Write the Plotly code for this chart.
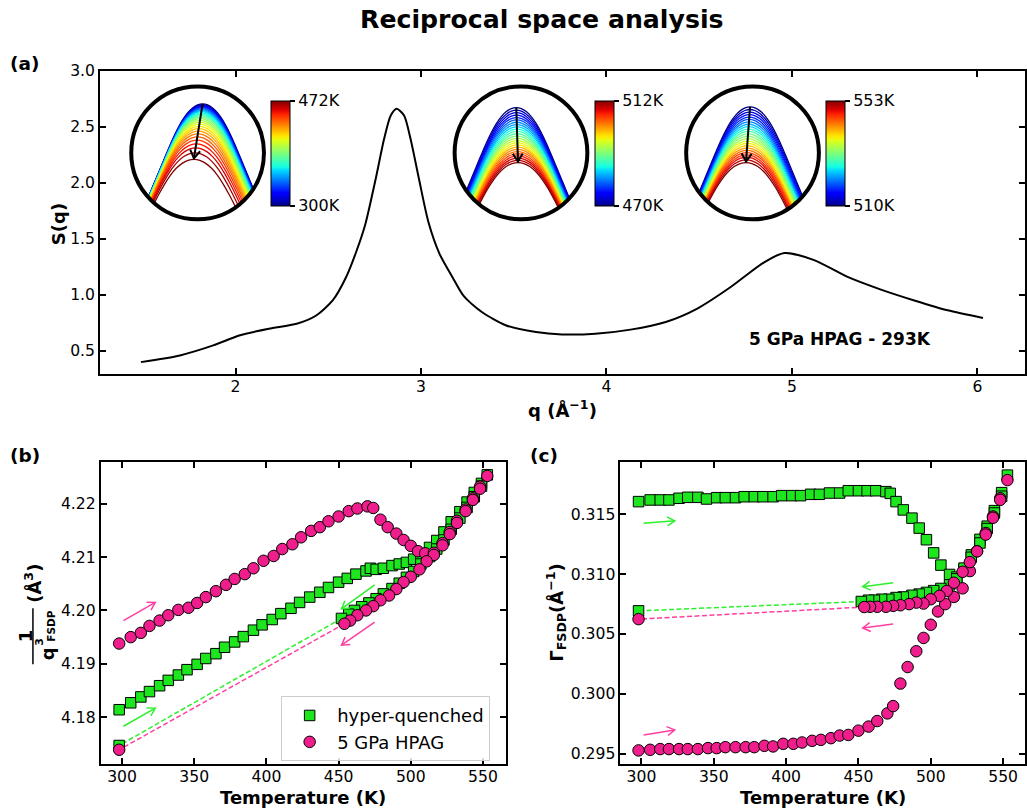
import numpy as np
import plotly.graph_objects as go

W, H = 1027, 812
FONT = "DejaVu Sans"
Y_OFF, Y_SCALE = 8.0, 0.99   # empirical vertical correction of the rendered page

# ---------------- data: panel (a) S(q) ----------------
q_vals = [1.49, 1.70, 1.88, 2.02, 2.18, 2.33, 2.435, 2.524, 2.596, 2.65, 2.70, 2.756, 2.801, 2.837, 2.869,
          2.909, 2.944, 2.989, 3.04, 3.10, 3.17, 3.23, 3.33, 3.46, 3.62, 3.76, 3.94, 4.13, 4.32, 4.49,
          4.67, 4.85, 4.96, 5.12, 5.30, 5.48, 5.66, 5.84, 6.03]
sq_vals = [0.400, 0.460, 0.549, 0.638, 0.698, 0.742, 0.816, 0.950, 1.157, 1.380, 1.630, 2.035, 2.390, 2.600, 2.660,
           2.600, 2.390, 2.035, 1.650, 1.366, 1.157, 0.990, 0.845, 0.727, 0.668, 0.647, 0.653, 0.690, 0.758, 0.878,
           1.070, 1.290, 1.373, 1.310, 1.160, 1.047, 0.950, 0.862, 0.794]

# ---------------- data: insets (peak apex per temperature, px) ----------------
ins1_T = [300, 306, 313, 319, 325, 332, 338, 344, 351, 357, 364, 370, 376, 383, 389, 395, 402, 408,
          415, 421, 427, 434, 440, 446, 453, 459, 466, 472]
ins1_drop = [0, 0.8, 1.6, 2.4, 3.2, 4.0, 4.9, 5.8, 6.8, 7.8, 9.0, 10.3, 11.7, 13.2, 14.8, 16.5, 18.3, 20.3,
             22.5, 24.8, 27.3, 30.0, 33.0, 36.3, 40.0, 44.0, 49.0, 55.5]
ins2_T = [470, 472, 474, 475, 477, 479, 481, 482, 484, 486, 488, 489, 491, 493, 495, 496, 498, 500,
          502, 503, 505, 507, 509, 510, 512]
ins2_drop = [0, 2.6, 5.1, 7.6, 10.0, 12.4, 14.7, 17.0, 19.3, 21.6, 23.9, 26.2, 28.5, 30.8, 33.0, 35.2,
             37.4, 39.6, 41.8, 44.0, 46.2, 48.4, 50.6, 52.8, 55.0]
ins3_T = [510, 512, 514, 516, 517, 519, 521, 523, 525, 527, 529, 531, 532, 534, 536, 538, 540, 542,
          544, 546, 547, 549, 551, 553]
ins3_drop = [0, 2.6, 5.2, 7.7, 10.2, 12.6, 15.0, 17.4, 19.8, 22.2, 24.6, 27.0, 29.4, 31.8, 34.2, 36.6,
             38.9, 41.2, 43.5, 45.8, 48.1, 50.4, 53.0, 55.7]
# peak profile (half width px -> drop px)
prof_hw = [0, 5, 10, 15, 20, 25, 30, 35, 40, 45, 50, 55, 60, 65, 70, 75, 80]
prof_drop = [0, 1, 4, 9, 16, 25, 35.5, 47, 59, 71, 83, 95, 107, 119, 131, 143, 155]

# ---------------- data: panels (b) and (c) ----------------
hq_heat_T = [298, 306, 313, 319, 326, 332, 339, 345, 352, 358, 365, 371, 378, 384, 391, 397, 404, 410,
             417, 423, 430, 437, 443, 450, 456, 462, 469, 472, 476, 481, 487, 492, 497, 502, 507, 513,
             518, 523, 528, 534, 539, 544, 549, 553]
hq_heat_invq3 = [4.1814, 4.1827, 4.1838, 4.1848, 4.1859, 4.1869, 4.1879, 4.1889, 4.1899, 4.1910,
                 4.1919, 4.1931, 4.1941, 4.1951, 4.1963, 4.1973, 4.1983, 4.1994, 4.2004, 4.2015,
                 4.2025, 4.2034, 4.2043, 4.2053, 4.2060, 4.2068, 4.2074, 4.2079, 4.2077, 4.2079,
                 4.2084, 4.2087, 4.2090, 4.2096, 4.2105, 4.2118, 4.2131, 4.2147, 4.2166, 4.2185,
                 4.2203, 4.2221, 4.2238, 4.2254]
hq_heat_gamma = [0.31605, 0.31619, 0.31619, 0.31619, 0.31633, 0.31641, 0.31641, 0.31627, 0.31638, 0.31638,
                 0.31638, 0.31646, 0.31646, 0.31646, 0.31646, 0.31655, 0.31655, 0.31655, 0.31666, 0.31666,
                 0.31677, 0.31677, 0.31696, 0.31696, 0.31696, 0.31696, 0.31688, 0.31674, 0.31605, 0.31536,
                 0.31467, 0.31384, 0.31287, 0.31177, 0.31075, 0.30997, 0.30975, 0.31040, 0.31160, 0.31290,
                 0.31400, 0.31530, 0.31680, 0.31826]
hq_cool_T = [549, 544, 539, 534, 528, 523, 518, 513, 507, 502, 497, 492, 487, 481, 476, 471, 466, 461, 457, 452]
hq_cool_invq3 = [4.2233, 4.2213, 4.2193, 4.2173, 4.2152, 4.2132, 4.2115, 4.2101, 4.2087, 4.2073,
                 4.2062, 4.2051, 4.2041, 4.2031, 4.2022, 4.2014, 4.2007, 4.2000, 4.1993, 4.1985]
hq_cool_gamma = [0.31650, 0.31510, 0.31380, 0.31260, 0.31140, 0.31050, 0.30960, 0.30910, 0.30880, 0.30862,
                 0.30847, 0.30833, 0.30823, 0.30809, 0.30804, 0.30790, 0.30790, 0.30782, 0.30782, 0.30771]
hq_final_T = [298]
hq_final_invq3 = [4.1747]
hq_final_gamma = [0.30693]

hp_heat_T = [298, 306, 313, 319, 326, 332, 339, 346, 352, 358, 365, 372, 378, 385, 391, 398, 405, 411,
             418, 424, 431, 437, 443, 450, 457, 463, 470, 474, 479, 484, 490, 495, 500, 505, 510, 516,
             522, 527, 532, 538, 543, 548, 553]
hp_heat_invq3 = [4.1938, 4.1950, 4.1958, 4.1971, 4.1981, 4.1991, 4.2001, 4.2005, 4.2014, 4.2025,
                 4.2036, 4.2048, 4.2059, 4.2068, 4.2079, 4.2093, 4.2102, 4.2115, 4.2124, 4.2137,
                 4.2149, 4.2156, 4.2167, 4.2176, 4.2186, 4.2191, 4.2195, 4.2192, 4.2170, 4.2156,
                 4.2144, 4.2132, 4.2121, 4.2111, 4.2107, 4.2108, 4.2126, 4.2147, 4.2168, 4.2189,
                 4.2210, 4.2232, 4.2252]
hp_heat_gamma = [0.29528, 0.29533, 0.29539, 0.29539, 0.29539, 0.29539, 0.29539, 0.29547, 0.29547, 0.29555,
                 0.29555, 0.29555, 0.29555, 0.29566, 0.29561, 0.29583, 0.29583, 0.29594, 0.29608, 0.29616,
                 0.29630, 0.29652, 0.29657, 0.29693, 0.29727, 0.29773, 0.29837, 0.29898, 0.30086, 0.30224,
                 0.30356, 0.30467, 0.30577, 0.30688, 0.30749, 0.30809, 0.30881, 0.31025, 0.31191, 0.31343,
                 0.31481, 0.31633, 0.31785]
hp_cool_T = [548, 543, 538, 532, 527, 522, 516, 511, 506, 500, 495, 490, 485, 479, 474, 469, 463, 458, 454]
hp_cool_invq3 = [4.2228, 4.2207, 4.2186, 4.2164, 4.2143, 4.2122, 4.2104, 4.2092, 4.2077, 4.2063,
                 4.2053, 4.2040, 4.2028, 4.2019, 4.2008, 4.2000, 4.1991, 4.1981, 4.1975]
hp_cool_gamma = [0.31620, 0.31470, 0.31330, 0.31190, 0.31100, 0.31019, 0.30928, 0.30859, 0.30818, 0.30790,
                 0.30754, 0.30762, 0.30749, 0.30740, 0.30735, 0.30727, 0.30727, 0.30727, 0.30725]
hp_final_T = [298]
hp_final_invq3 = [4.1739]
hp_final_gamma = [0.30624]

q_ticks = [2, 3, 4, 5, 6]
s_ticks = [0.5, 1.0, 1.5, 2.0, 2.5, 3.0]
T_ticks = [300, 350, 400, 450, 500, 550]
invq3_ticks = [4.18, 4.19, 4.20, 4.21, 4.22]
gamma_ticks = [0.295, 0.300, 0.305, 0.310, 0.315]

GREEN = "#1ee61e"
PINK = "#f01e8c"
GREEN_A = "#2cf02c"
PINK_A = "#ff3fa0"

# direction arrows (tail T, tail value, head T, head value)
arrows_b = [(301, 4.1981, 323, 4.2015, PINK_A), (301, 4.1783, 323, 4.1817, GREEN_A),
            (475, 4.2048, 452, 4.2003, GREEN_A), (475, 4.1978, 452, 4.1935, PINK_A)]
arrows_c = [(301.5, 0.31425, 323, 0.31445, GREEN_A), (474, 0.30928, 453, 0.30895, GREEN_A),
            (474, 0.30583, 453, 0.30550, PINK_A), (301.5, 0.29657, 323, 0.29699, PINK_A)]

# axis geometry (pixels) and ranges
AX = {
    "a": dict(xd=(100.3, 1026.5), yd=(373.3, 69.7), xr=(1.27, 6.254), yr=(0.295, 3.0)),
    "b": dict(xd=(101, 507), yd=(764, 461), xr=(285.28, 565.97), yr=(4.1712, 4.2279)),
    "c": dict(xd=(621.7, 1026.5), yd=(764, 461), xr=(285.51, 564.8), yr=(0.29413, 0.3194)),
}


def fx(p):
    return p / W


def fy(p):
    return 1 - ((p - Y_OFF) / Y_SCALE) / H


def jet(v):
    v = float(np.clip(v, 0, 1))
    r = np.interp(v, [0, 0.35, 0.66, 0.89, 1], [0, 0, 1, 1, 0.5])
    g = np.interp(v, [0, 0.125, 0.375, 0.64, 0.91, 1], [0, 0, 1, 1, 0, 0])
    b = np.interp(v, [0, 0.11, 0.34, 0.65, 1], [0.5, 1, 1, 0, 0])
    return "rgb(%d,%d,%d)" % (round(r * 255), round(g * 255), round(b * 255))


JET = [[i / 24, jet(i / 24)] for i in range(25)]


def arrow_shapes(t0, v0, t1, v1, sx, sy, xref, yref, color, width, head_len=8.0, head_half=4.5):
    """open '->' arrow drawn as shapes; sx, sy = pixels per data unit"""
    dxp, dyp = (t1 - t0) * sx, (v1 - v0) * sy
    n = (dxp ** 2 + dyp ** 2) ** 0.5
    ux, uy = dxp / n, dyp / n
    px, py = -uy, ux
    pts = []
    for sgn in (1, -1):
        bx = -ux * head_len + sgn * px * head_half
        by = -uy * head_len + sgn * py * head_half
        pts.append((t1 + bx / sx, v1 + by / sy))
    path = "M %f,%f L %f,%f L %f,%f" % (pts[0][0], pts[0][1], t1, v1, pts[1][0], pts[1][1])
    return [dict(type="line", xref=xref, yref=yref, x0=t0, y0=v0, x1=t1, y1=v1,
                 line=dict(color=color, width=width)),
            dict(type="path", xref=xref, yref=yref, path=path, line=dict(color=color, width=width))]


fig = go.Figure()

# ---------------- panel (a) ----------------
fig.add_trace(go.Scatter(x=q_vals, y=sq_vals, mode="lines",
                         line=dict(color="black", width=2, shape="spline", smoothing=0.7),
                         showlegend=False, xaxis="x", yaxis="y", hoverinfo="skip"))

R_CIRC = 66.5
insets = [
    dict(T=ins1_T, drop=ins1_drop, cx=198, apex0=(5.0, 49.0), apex1=(-3.7, -7.0), cb_x=271.7, ax="4"),
    dict(T=ins2_T, drop=ins2_drop, cx=522, apex0=(-4.7, 45.3), apex1=(-3.0, -9.7), cb_x=596.0, ax="5"),
    dict(T=ins3_T, drop=ins3_drop, cx=754, apex0=(-2.5, 46.0), apex1=(-6.5, -9.7), cb_x=827.7, ax="6"),
]


def clip_to_circle(xs, ys, R):
    out_x, out_y = [], []
    pts = list(zip(xs, ys))
    for i, (x, y) in enumerate(pts):
        inside = x * x + y * y <= R * R
        if i > 0:
            x0, y0 = pts[i - 1]
            in0 = x0 * x0 + y0 * y0 <= R * R
            if in0 != inside:
                dx, dy = x - x0, y - y0
                a = dx * dx + dy * dy
                b = 2 * (x0 * dx + y0 * dy)
                c = x0 * x0 + y0 * y0 - R * R
                disc = max(b * b - 4 * a * c, 0)
                for t in ((-b - disc ** 0.5) / (2 * a), (-b + disc ** 0.5) / (2 * a)):
                    if 0 <= t <= 1:
                        out_x.append(x0 + t * dx)
                        out_y.append(y0 + t * dy)
                        break
        if inside:
            out_x.append(x)
            out_y.append(y)
    return out_x, out_y


shapes = []
annotations = []
for ins in insets:
    ax = ins["ax"]
    Ts, drops = ins["T"], ins["drop"]
    tmin, tmax = Ts[0], Ts[-1]
    dmax = drops[-1]
    apx, apy = [], []
    for T, d in zip(Ts, drops):
        f = d / dmax
        x_ap = ins["apex0"][0] + (ins["apex1"][0] - ins["apex0"][0]) * f
        y_ap = ins["apex0"][1] - d
        s = 1.0 + 0.18 * f
        hw = [-h for h in prof_hw[::-1]] + prof_hw[1:]
        dr = prof_drop[::-1] + prof_drop[1:]
        xs = [x_ap + s * h for h in hw]
        ys = [y_ap - v for v in dr]
        cx_, cy_ = clip_to_circle(xs, ys, R_CIRC)
        fig.add_trace(go.Scatter(x=cx_, y=cy_, mode="lines",
                                 line=dict(color=jet((T - tmin) / (tmax - tmin)), width=1.3, shape="spline"),
                                 showlegend=False, xaxis="x" + ax, yaxis="y" + ax, hoverinfo="skip"))
        apx.append(x_ap)
        apy.append(y_ap)
    cbar = dict(thickness=18.5, thicknessmode="pixels", len=105, lenmode="pixels",
                x=fx(ins["cb_x"]), xanchor="left", xpad=0,
                y=fy(152.5), yanchor="middle", ypad=0,
                outlinewidth=1, outlinecolor="black",
                tickvals=[tmin, tmax], ticktext=["%dK" % tmin, "%dK" % tmax],
                ticks="outside", ticklen=5, tickwidth=1.5, tickcolor="black",
                tickfont=dict(family=FONT, size=16, color="black"))
    mk = dict(size=1, opacity=0, color=Ts, colorscale=JET, cmin=tmin, cmax=tmax, showscale=True, colorbar=cbar)
    fig.add_trace(go.Scatter(x=apx, y=apy, mode="markers", xaxis="x" + ax, yaxis="y" + ax,
                             showlegend=False, hoverinfo="skip", marker=mk))
    shapes.append(dict(type="circle", xref="x" + ax, yref="y" + ax, x0=-R_CIRC, x1=R_CIRC, y0=-R_CIRC, y1=R_CIRC,
                       line=dict(color="black", width=4)))
    shapes += arrow_shapes(apx[0], apy[0], apx[-1], apy[-1] + 1.0, 1.0, 1.0, "x" + ax, "y" + ax, "black", 2,
                           head_len=8, head_half=5)

# ---------------- panels (b) and (c) ----------------
panel_sets = [
    ("x2", "y2", hq_heat_invq3, hq_cool_invq3, hq_final_invq3, hp_heat_invq3, hp_cool_invq3, hp_final_invq3, True),
    ("x3", "y3", hq_heat_gamma, hq_cool_gamma, hq_final_gamma, hp_heat_gamma, hp_cool_gamma, hp_final_gamma, False),
]
for xa, ya, hq_h, hq_c, hq_f, hp_h, hp_c, hp_f, leg in panel_sets:
    fig.add_trace(go.Scatter(x=[hq_cool_T[-1], hq_final_T[0]], y=[hq_c[-1], hq_f[0]], mode="lines",
                             line=dict(color=GREEN_A, width=1.5, dash="5px,2.5px"), showlegend=False,
                             xaxis=xa, yaxis=ya, hoverinfo="skip"))
    fig.add_trace(go.Scatter(x=[hp_cool_T[-1], hp_final_T[0]], y=[hp_c[-1], hp_f[0]], mode="lines",
                             line=dict(color=PINK_A, width=1.5, dash="5px,2.5px"), showlegend=False,
                             xaxis=xa, yaxis=ya, hoverinfo="skip"))
    fig.add_trace(go.Scatter(x=hq_heat_T + hq_cool_T + hq_final_T, y=hq_h + hq_c + hq_f, mode="markers",
                             name="hyper-quenched", showlegend=leg,
                             marker=dict(symbol="square", size=10.5, color=GREEN, line=dict(color="black", width=1)),
                             xaxis=xa, yaxis=ya))
    fig.add_trace(go.Scatter(x=hp_heat_T + hp_cool_T + hp_final_T, y=hp_h + hp_c + hp_f, mode="markers",
                             name="5 GPa HPAG", showlegend=leg,
                             marker=dict(symbol="circle", size=11.5, color=PINK, line=dict(color="black", width=1)),
                             xaxis=xa, yaxis=ya))

for arrs, key, xa, ya in [(arrows_b, "b", "x2", "y2"), (arrows_c, "c", "x3", "y3")]:
    g = AX[key]
    sx = (g["xd"][1] - g["xd"][0]) / (g["xr"][1] - g["xr"][0])
    sy = (g["yd"][0] - g["yd"][1]) / (g["yr"][1] - g["yr"][0])
    for t0, v0, t1, v1, col in arrs:
        shapes += arrow_shapes(t0, v0, t1, v1, sx, sy, xa, ya, col, 1.5, head_len=7.5, head_half=4.5)


def txt(text, x, y, size, angle=0, bold=True):
    return dict(text=("<b>%s</b>" % text) if bold else text, x=fx(x), y=fy(y), xref="paper", yref="paper",
                showarrow=False, xanchor="center", yanchor="middle", textangle=angle,
                font=dict(family=FONT, size=size, color="black"))


annotations += [
    txt("Reciprocal space analysis", 543.5, 19, 25.2),
    txt("(a)", 24.5, 63, 18.5),
    txt("(b)", 25, 455, 18.5),
    txt("(c)", 545.5, 455, 18.5),
    txt("5 GPa HPAG - 293K", 841.5, 338, 17),
    txt("S(q)", 58.5, 223, 18, -90),
    txt("q (Å<sup>−1</sup>)", 564, 408, 18),
    txt("Temperature (K)", 303.3, 797.5, 18),
    txt("Temperature (K)", 825, 797.5, 18),
    txt("Γ<sub>FSDP</sub>(Å<sup>−1</sup>)", 557.5, 612, 18, -90),
    txt("(Å<sup>3</sup>)", 33, 582.5, 18, -90),
    txt("1", 25, 635, 18, -90),
    txt("q", 47, 653, 18, -90),
    txt("3", 39.5, 641, 11, -90),
    txt("FSDP", 51.5, 626, 10.5, -90),
]
shapes.append(dict(type="line", xref="paper", yref="paper", x0=fx(33), x1=fx(33), y0=fy(608), y1=fy(664),
                   line=dict(color="black", width=1.5)))


def axis_style(**kw):
    d = dict(showline=True, linecolor="black", linewidth=2, mirror="ticks", ticks="inside", ticklen=6,
             tickwidth=1.5, tickcolor="black", showgrid=False, zeroline=False,
             tickfont=dict(family=FONT, size=15.6, color="black"))
    d.update(kw)
    return d


def inset_axis(lo, hi, anchor):
    return dict(domain=[lo, hi], range=[-75, 75], visible=False, anchor=anchor, fixedrange=True)


def dom_x(k):
    return [fx(AX[k]["xd"][0]), fx(AX[k]["xd"][1])]


def dom_y(k):
    return [fy(AX[k]["yd"][0]), fy(AX[k]["yd"][1])]


layout = dict(
    width=W, height=H, margin=dict(l=0, r=0, t=0, b=0), paper_bgcolor="white", plot_bgcolor="rgba(0,0,0,0)",
    font=dict(family=FONT, color="black"),
    xaxis=axis_style(domain=dom_x("a"), range=list(AX["a"]["xr"]), tickvals=q_ticks, anchor="y",
                     ticklabelstandoff=-3),
    yaxis=axis_style(domain=dom_y("a"), range=list(AX["a"]["yr"]), tickvals=s_ticks, tickformat=".1f", anchor="x"),
    xaxis2=axis_style(domain=dom_x("b"), range=list(AX["b"]["xr"]), tickvals=T_ticks, anchor="y2",
                      ticklabelstandoff=-3),
    yaxis2=axis_style(domain=dom_y("b"), range=list(AX["b"]["yr"]), tickvals=invq3_ticks, tickformat=".2f",
                      anchor="x2"),
    xaxis3=axis_style(domain=dom_x("c"), range=list(AX["c"]["xr"]), tickvals=T_ticks, anchor="y3",
                      ticklabelstandoff=-3),
    yaxis3=axis_style(domain=dom_y("c"), range=list(AX["c"]["yr"]), tickvals=gamma_ticks, tickformat=".3f",
                      anchor="x3"),
    legend=dict(x=fx(281.7), y=fy(696), xanchor="left", yanchor="top", bgcolor="rgba(255,255,255,0.85)",
                bordercolor="#cccccc", borderwidth=1, font=dict(family=FONT, size=18, color="black"),
                itemwidth=45, tracegroupgap=0),
    shapes=shapes,
    annotations=annotations,
)
for ins in insets:
    ax = ins["ax"]
    layout["xaxis" + ax] = inset_axis(fx(ins["cx"] - 75), fx(ins["cx"] + 75), "y" + ax)
    layout["yaxis" + ax] = inset_axis(fy(152 + 75), fy(152 - 75), "x" + ax)

fig.update_layout(**layout)
fig.write_html("out.html")
